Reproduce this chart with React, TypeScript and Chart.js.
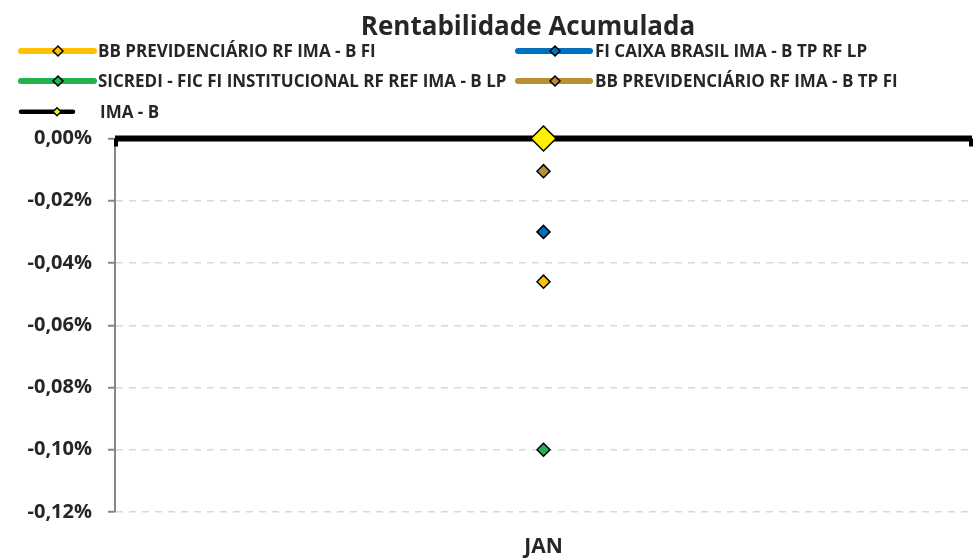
import React, { useEffect, useRef } from 'react';
import { Chart, registerables } from 'chart.js';

Chart.register(...registerables);

const chartTitle = 'Rentabilidade Acumulada';
const categories = ['JAN'];

const seriesNames = [
  'BB PREVIDENCIÁRIO RF IMA - B FI',
  'FI CAIXA BRASIL IMA - B TP RF LP',
  'SICREDI - FIC FI INSTITUCIONAL RF REF IMA - B LP',
  'BB PREVIDENCIÁRIO RF IMA - B TP FI',
  'IMA - B',
];

const bbPrevRfImaBFi = [-0.046];
const caixaBrasilImaB = [-0.03];
const sicrediImaB = [-0.1];
const bbPrevImaBTpFi = [-0.0105];
const imaB = [0.0];

const yMin = -0.12;
const yMax = 0;
const yStep = 0.02;

const lineColors = ['#FFC000', '#0070C0', '#22B14C', '#B8902F', '#000000'];
const pointColors = ['#FFC000', '#0070C0', '#22B14C', '#B8902F', '#FFF200'];

const FONT = '"Open Sans", "Noto Sans", sans-serif';
const TEXT = '#262626';

function fmtPct(v: number) {
  let s = Math.abs(v) < 1e-9 ? '0,00' : v.toFixed(2).replace('.', ',');
  return s + '%';
}

function diamond(ctx: CanvasRenderingContext2D, x: number, y: number, r: number, fill: string) {
  ctx.beginPath();
  ctx.moveTo(x - r, y);
  ctx.lineTo(x, y - r);
  ctx.lineTo(x + r, y);
  ctx.lineTo(x, y + r);
  ctx.closePath();
  ctx.fillStyle = fill;
  ctx.fill();
  ctx.lineWidth = 1.5;
  ctx.strokeStyle = '#000';
  ctx.stroke();
}

// legend layout: [datasetIndex, lineStart, lineEnd, markerX, textX, lineY, textBaseline, lineWidth, markerR]
const legendLayout: number[][] = [
  [0, 21, 94, 58, 98, 51, 56.7, 6, 5],
  [1, 518, 590, 555, 595, 51, 56.7, 6, 5],
  [2, 21, 94, 58, 98, 81, 87.3, 6, 5],
  [3, 518, 590, 555, 595, 81, 87.3, 6, 5],
  [4, 21, 73, 57, 100, 111.7, 118.3, 4.5, 4],
];

const overlayPlugin = {
  id: 'overlay',
  beforeDatasetsDraw(chart: any) {
    const { ctx, chartArea, scales } = chart;
    const y0 = scales.y.getPixelForValue(0);
    ctx.save();
    ctx.strokeStyle = '#000';
    ctx.lineWidth = 6;
    ctx.beginPath();
    ctx.moveTo(chartArea.left, y0);
    ctx.lineTo(chartArea.right, y0);
    ctx.stroke();
    ctx.lineWidth = 4;
    ctx.beginPath();
    ctx.moveTo(chartArea.left + 1, y0);
    ctx.lineTo(chartArea.left + 1, y0 + 8);
    ctx.moveTo(chartArea.right - 1, y0);
    ctx.lineTo(chartArea.right - 1, y0 + 8);
    ctx.stroke();
    ctx.restore();
  },
  afterDraw(chart: any) {
    const { ctx } = chart;
    ctx.save();
    ctx.fillStyle = TEXT;
    ctx.font = `bold 26px ${FONT}`;
    ctx.textAlign = 'center';
    ctx.textBaseline = 'alphabetic';
    ctx.fillText(chartTitle, 528, 34.5);

    legendLayout.forEach(([idx, x1, x2, mx, tx, ly, tb, lw, mr]) => {
      ctx.strokeStyle = lineColors[idx];
      ctx.lineWidth = lw;
      ctx.lineCap = 'round';
      ctx.beginPath();
      ctx.moveTo(x1, ly);
      ctx.lineTo(x2, ly);
      ctx.stroke();
      ctx.lineCap = 'butt';
      diamond(ctx, mx, ly, mr, pointColors[idx]);
      ctx.fillStyle = TEXT;
      ctx.font = `bold 17px ${FONT}`;
      ctx.textAlign = 'left';
      ctx.fillText(seriesNames[idx], tx, tb);
    });
    ctx.restore();
  },
};

export default function App() {
  const ref = useRef<HTMLCanvasElement>(null);

  useEffect(() => {
    document.body.style.margin = '0';
    const seriesData = [bbPrevRfImaBFi, caixaBrasilImaB, sicrediImaB, bbPrevImaBTpFi, imaB];
    const chart = new Chart(ref.current as HTMLCanvasElement, {
      type: 'line',
      data: {
        labels: categories,
        datasets: seriesData.map((d, i) => ({
          label: seriesNames[i],
          data: d,
          borderColor: lineColors[i],
          backgroundColor: pointColors[i],
          pointBackgroundColor: pointColors[i],
          pointBorderColor: '#000',
          pointBorderWidth: 1.5,
          pointStyle: 'rectRot',
          pointRadius: i === 4 ? 12.5 : 6.5,
          pointHoverRadius: i === 4 ? 12.5 : 6.5,
          showLine: false,
          borderWidth: 6,
          clip: false as any,
        })),
      },
      options: {
        animation: false,
        responsive: false,
        events: [],
        layout: { autoPadding: false, padding: { top: 138.5, right: 2, left: 0, bottom: 0 } },
        plugins: {
          legend: { display: false },
          title: { display: false },
          tooltip: { enabled: false },
        },
        scales: {
          x: {
            type: 'category',
            offset: true,
            grid: { display: false, drawTicks: false },
            border: { display: false },
            ticks: {
              color: TEXT,
              font: { family: FONT, size: 21, weight: 'bold' },
              padding: 22,
            },
            afterFit: (s: any) => {
              s.height = 48;
              s.paddingLeft = 0;
              s.paddingRight = 0;
            },
          },
          y: {
            type: 'linear',
            min: yMin,
            max: yMax,
            ticks: {
              stepSize: yStep,
              color: TEXT,
              font: { family: FONT, size: 20, weight: 'bold' },
              padding: 16,
              callback: (v: any) => fmtPct(Number(v)),
            },
            grid: {
              color: '#D9D9D9',
              lineWidth: 1.5,
              tickColor: '#868686',
              tickWidth: 2,
              tickLength: 7,
              tickBorderDash: [],
            } as any,
            border: { display: true, color: '#868686', width: 2, dash: [7, 6] } as any,
            afterFit: (s: any) => {
              s.width = 115;
              s.paddingTop = 0;
              s.paddingBottom = 0;
            },
          },
        },
      } as any,
      plugins: [overlayPlugin],
    });
    return () => chart.destroy();
  }, []);

  return (
    <div style={{ width: 974, height: 560 }}>
      <canvas ref={ref} width={974} height={560} />
    </div>
  );
}
